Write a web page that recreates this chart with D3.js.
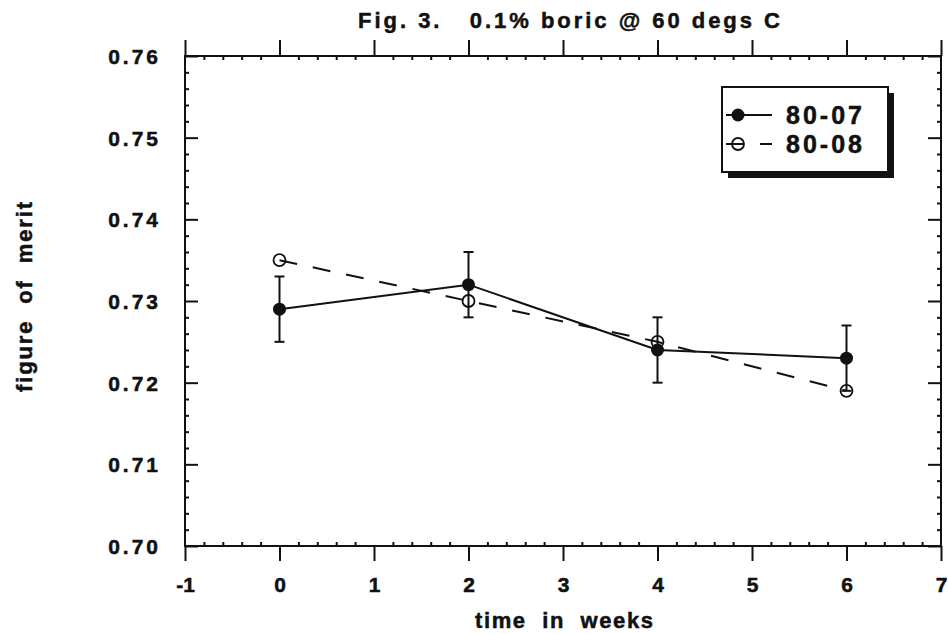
<!DOCTYPE html>
<html>
<head>
<meta charset="utf-8">
<script src="https://cdn.jsdelivr.net/npm/d3@7"></script>
<style>
  body { margin: 0; background: #fff; }
  text { font-family: "Liberation Sans", Arial, sans-serif; font-weight: bold; fill: #111; stroke: #111; stroke-width: 0.5px; }
</style>
</head>
<body>
<svg id="svg"></svg>
<script>
// data
const weeks = [0, 2, 4, 6];
const merit8007 = [0.729, 0.732, 0.724, 0.723];
const err8007 = [0.004, 0.004, 0.004, 0.004];
const merit8008 = [0.735, 0.730, 0.725, 0.719];
const seriesNames = ["80-07", "80-08"];
const xTicks = [-1, 0, 1, 2, 3, 4, 5, 6, 7];
const yTicks = [0.70, 0.71, 0.72, 0.73, 0.74, 0.75, 0.76];

function sketch() {
    let svg = d3.select("#svg")
        .attr("width", 948)
        .attr("height", 634);

    let left = 185, right = 941, top = 56, bottom = 546;
    let ink = "#111";

    let x = d3.scaleLinear().domain([-1, 7]).range([left, right]);
    let y = d3.scaleLinear().domain([0.70, 0.76]).range([bottom, top]);

    // minor tick positions (5 divisions per major)
    let xMinor = d3.range(-1, 7.001, 0.2).filter(v => Math.abs(v - Math.round(v)) > 1e-6);
    let yMinor = d3.range(0.70, 0.7601, 0.002).filter(v => Math.abs(v * 100 - Math.round(v * 100)) > 1e-6);

    let g = svg.append("g");

    // frame
    g.append("rect")
        .attr("x", left).attr("y", top)
        .attr("width", right - left).attr("height", bottom - top)
        .attr("fill", "none").attr("stroke", ink).attr("stroke-width", 2);

    function styleAxis(sel) {
        sel.select(".domain").remove();
        sel.selectAll("line").attr("stroke", ink).attr("stroke-width", 2);
    }

    // bottom axis: majors out, minors in
    let xb = g.append("g").attr("transform", `translate(0,${bottom})`)
        .call(d3.axisBottom(x).tickValues(xTicks).tickSize(15).tickSizeOuter(0)
            .tickFormat(d => String(d)));
    styleAxis(xb);
    xb.selectAll("text")
        .attr("y", 46).attr("dy", 0)
        .attr("font-size", 21)
        .attr("font-family", null)
        .attr("fill", ink);

    g.append("g").attr("transform", `translate(0,${bottom})`)
        .call(d3.axisBottom(x).tickValues(xMinor).tickSize(-4).tickSizeOuter(0).tickFormat(""))
        .call(styleAxis);

    // top axis
    g.append("g").attr("transform", `translate(0,${top})`)
        .call(d3.axisTop(x).tickValues(xTicks).tickSize(16).tickSizeOuter(0).tickFormat(""))
        .call(styleAxis);
    g.append("g").attr("transform", `translate(0,${top})`)
        .call(d3.axisTop(x).tickValues(xMinor).tickSize(-4).tickSizeOuter(0).tickFormat(""))
        .call(styleAxis);

    // left axis: majors in
    let yl = g.append("g").attr("transform", `translate(${left},0)`)
        .call(d3.axisLeft(y).tickValues(yTicks).tickSize(-13).tickSizeOuter(0)
            .tickPadding(24).tickFormat(d3.format(".2f")));
    styleAxis(yl);
    yl.selectAll("text")
        .attr("font-size", 21)
        .attr("font-family", null)
        .attr("letter-spacing", 3)
        .attr("dy", "0.36em")
        .attr("fill", ink);

    g.append("g").attr("transform", `translate(${left},0)`)
        .call(d3.axisLeft(y).tickValues(yMinor).tickSize(-4).tickSizeOuter(0).tickFormat(""))
        .call(styleAxis);

    // right axis
    g.append("g").attr("transform", `translate(${right},0)`)
        .call(d3.axisRight(y).tickValues(yTicks).tickSize(-13).tickSizeOuter(0).tickFormat(""))
        .call(styleAxis);
    g.append("g").attr("transform", `translate(${right},0)`)
        .call(d3.axisRight(y).tickValues(yMinor).tickSize(-4).tickSizeOuter(0).tickFormat(""))
        .call(styleAxis);

    // titles
    svg.append("text")
        .attr("x", 358).attr("y", 28)
        .attr("font-size", 22)
        .attr("textLength", 422).attr("lengthAdjust", "spacing")
        .style("white-space", "pre")
        .text("Fig. 3.   0.1% boric @ 60 degs C");

    svg.append("text")
        .attr("x", 475).attr("y", 628)
        .attr("font-size", 22)
        .attr("textLength", 178).attr("lengthAdjust", "spacing")
        .style("white-space", "pre")
        .text("time  in  weeks");

    svg.append("text")
        .attr("transform", "translate(32,392) rotate(-90)")
        .attr("font-size", 22)
        .attr("textLength", 190).attr("lengthAdjust", "spacing")
        .style("white-space", "pre")
        .text("figure  of  merit");

    // series
    let pts8007 = weeks.map((w, i) => ({x: w, y: merit8007[i], e: err8007[i]}));
    let pts8008 = weeks.map((w, i) => ({x: w, y: merit8008[i]}));

    let line = d3.line().x(d => x(d.x)).y(d => y(d.y));

    g.append("path").datum(pts8008)
        .attr("d", line)
        .attr("fill", "none").attr("stroke", ink).attr("stroke-width", 2)
        .attr("stroke-dasharray", "18,16");

    g.append("path").datum(pts8007)
        .attr("d", line)
        .attr("fill", "none").attr("stroke", ink).attr("stroke-width", 2);

    // error bars
    let eb = g.selectAll("g.err").data(pts8007).enter().append("g").attr("class", "err");
    eb.append("line")
        .attr("x1", d => x(d.x)).attr("x2", d => x(d.x))
        .attr("y1", d => y(d.y + d.e)).attr("y2", d => y(d.y - d.e))
        .attr("stroke", ink).attr("stroke-width", 2);
    eb.selectAll("line.cap").data(d => [{x: d.x, y: d.y + d.e}, {x: d.x, y: d.y - d.e}])
        .enter().append("line").attr("class", "cap")
        .attr("x1", d => x(d.x) - 5).attr("x2", d => x(d.x) + 5)
        .attr("y1", d => y(d.y)).attr("y2", d => y(d.y))
        .attr("stroke", ink).attr("stroke-width", 2);

    g.selectAll("circle.s1").data(pts8007).enter().append("circle")
        .attr("class", "s1")
        .attr("cx", d => x(d.x)).attr("cy", d => y(d.y))
        .attr("r", 6.5).attr("fill", ink);

    g.selectAll("circle.s2").data(pts8008).enter().append("circle")
        .attr("class", "s2")
        .attr("cx", d => x(d.x)).attr("cy", d => y(d.y))
        .attr("r", 6).attr("fill", "none").attr("stroke", ink).attr("stroke-width", 1.8);

    // legend with drop shadow
    let lg = svg.append("g");
    let lx = 722, ly = 87, lw = 166, lh = 85;
    lg.append("rect").attr("x", lx + 6).attr("y", ly + 6).attr("width", lw).attr("height", lh).attr("fill", ink);
    lg.append("rect").attr("x", lx).attr("y", ly).attr("width", lw).attr("height", lh)
        .attr("fill", "#fff").attr("stroke", ink).attr("stroke-width", 2);

    let rows = [
        {name: seriesNames[0], dash: null, filled: true, yy: 115},
        {name: seriesNames[1], dash: "18,16", filled: false, yy: 144}
    ];
    rows.forEach(r => {
        lg.append("line")
            .attr("x1", 726).attr("x2", 772).attr("y1", r.yy).attr("y2", r.yy)
            .attr("stroke", ink).attr("stroke-width", 2)
            .attr("stroke-dasharray", r.dash);
        lg.append("circle")
            .attr("cx", 738).attr("cy", r.yy)
            .attr("r", r.filled ? 6.5 : 6)
            .attr("fill", r.filled ? ink : "none")
            .attr("stroke", ink).attr("stroke-width", r.filled ? 0 : 1.8);
        lg.append("text")
            .attr("x", 786).attr("y", r.yy + 9)
            .attr("font-size", 25)
            .attr("letter-spacing", 3)
            .text(r.name);
    });
}

sketch();
</script>
</body>
</html>
